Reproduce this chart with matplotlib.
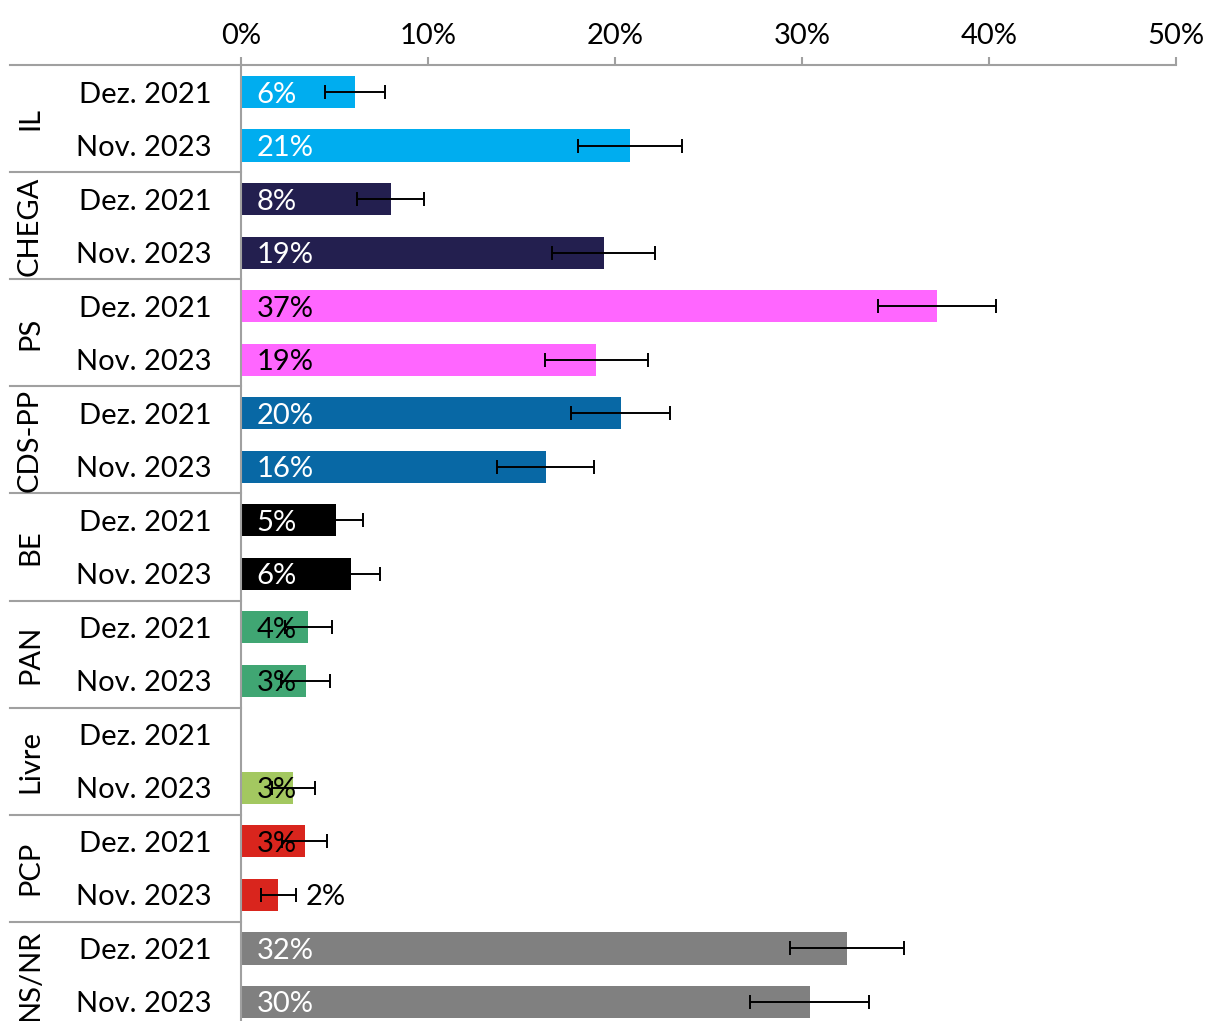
import numpy as np
import matplotlib.pyplot as plt
from matplotlib.transforms import blended_transform_factory

plt.rcParams['font.family'] = ['Lato', 'DejaVu Sans']

# data (percent)
parties = ["IL", "CHEGA", "PS", "CDS-PP", "BE", "PAN", "Livre", "PCP", "NS/NR"]
waves = ["Dez. 2021", "Nov. 2023"]
dez_2021 = [6.1, 8.0, 37.2, 20.3, 5.1, 3.6, np.nan, 3.4, 32.4]
nov_2023 = [20.8, 19.4, 19.0, 16.3, 5.9, 3.45, 2.8, 2.0, 30.4]
dez_err = [1.6, 1.8, 3.15, 2.65, 1.45, 1.25, np.nan, 1.2, 3.05]
nov_err = [2.8, 2.75, 2.75, 2.6, 1.55, 1.3, 1.15, 0.95, 3.2]

colors = ["#00ADEF", "#231F4F", "#FF66FF", "#0868A5", "#000000",
          "#40A673", "#A3C860", "#D9251D", "#808080"]
label_colors = ["white", "white", "black", "white", "white",
                "black", "black", "black", "white"]

grey = "#A0A0A0"
fs = 21

fig = plt.figure(figsize=(12.05, 10.21), dpi=100)
ax = fig.add_axes([0.2, -0.0076, 0.776, 0.9437])

values, errs, cols, lcols, ylabels = [], [], [], [], []
for i, p in enumerate(parties):
    values += [dez_2021[i], nov_2023[i]]
    errs += [dez_err[i], nov_err[i]]
    cols += [colors[i]] * 2
    lcols += [label_colors[i]] * 2
    ylabels += waves

y = np.arange(len(values))
ax.barh(y, values, height=0.6, color=cols, zorder=2)
ax.errorbar(values, y, xerr=errs, fmt="none", ecolor="black",
            elinewidth=1.4, capsize=5, capthick=1.4, zorder=3)

for yi, v, e, lc in zip(y, values, errs, lcols):
    if np.isnan(v):
        continue
    txt = f"{round(v):.0f}%"
    if v < 2.5:
        ax.annotate(txt, xy=(v + e, yi), xytext=(7, 0), textcoords="offset points",
                    ha="left", va="center_baseline", fontsize=fs, color="black")
    else:
        ax.annotate(txt, xy=(0, yi), xytext=(11, 0), textcoords="offset points",
                    ha="left", va="center_baseline", fontsize=fs, color=lc, zorder=2.5)

ax.set_xlim(0, 50)
ax.set_ylim(len(values) - 0.5, -0.5)
ax.xaxis.tick_top()
ax.set_xticks(np.arange(0, 51, 10))
ax.set_xticklabels([f"{t}%" for t in range(0, 51, 10)])
ax.tick_params(axis="x", length=6, width=1.5, color=grey, labelsize=fs, pad=6)
ax.set_yticks(y)
ax.set_yticklabels(ylabels)
ax.tick_params(axis="y", length=0, labelsize=fs, pad=21)

for s in ["right", "bottom"]:
    ax.spines[s].set_visible(False)
for s in ["top", "left"]:
    ax.spines[s].set_color(grey)
    ax.spines[s].set_linewidth(1.5)

# group separators and party names
trans = blended_transform_factory(ax.transAxes, ax.transData)
x_left = -0.247
for k in range(len(parties) + 1):
    ax.plot([x_left, 0], [2 * k - 0.5] * 2, color=grey, lw=1.5,
            transform=trans, clip_on=False)
for k, p in enumerate(parties):
    ax.text(-0.2257, 2 * k + 0.5, p, rotation=90, ha="center", va="center",
            fontsize=fs, transform=trans)

fig.savefig("out.png", dpi=100)
